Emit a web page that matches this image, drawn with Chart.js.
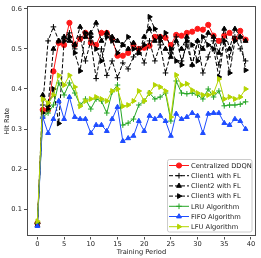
<!DOCTYPE html>
<html>
<head>
<meta charset="utf-8">
<script src="https://cdn.jsdelivr.net/npm/chart.js@4.4.0/dist/chart.umd.min.js"></script>
<style>
  html, body { margin: 0; padding: 0; background: #fff; }
  #wrap { width: 261px; height: 258px; }
</style>
</head>
<body>
<div id="wrap"><canvas id="hitRateChart" width="261" height="258"></canvas></div>
<script>
// Training periods on the x axis
const periods = [0,1,2,3,4,5,6,7,8,9,10,11,12,13,14,15,16,17,18,19,
                 20,21,22,23,24,25,26,27,28,29,30,31,32,33,34,35,36,37,38,39];

const xTicks = [0, 5, 10, 15, 20, 25, 30, 35, 40];
const yTicks = [0.1, 0.2, 0.3, 0.4, 0.5, 0.6];

const ddqn = [0.065,0.348,0.348,0.444,0.515,0.51,0.565,0.51,0.525,0.54,0.515,0.51,0.54,0.54,0.525,0.483,0.483,0.49,0.51,0.50,
              0.503,0.508,0.53,0.53,0.528,0.51,0.535,0.533,0.54,0.543,0.55,0.548,0.56,0.533,0.52,0.533,0.54,0.525,0.545,0.523];
const client1 = [0.065,0.36,0.52,0.555,0.52,0.53,0.54,0.50,0.53,0.47,0.52,0.426,0.50,0.434,0.47,0.428,0.465,0.45,0.48,0.50,
                 0.465,0.52,0.47,0.51,0.44,0.49,0.53,0.47,0.51,0.46,0.52,0.44,0.48,0.52,0.46,0.52,0.48,0.53,0.50,0.47];
const client2 = [0.06,0.385,0.36,0.50,0.52,0.53,0.52,0.51,0.555,0.53,0.54,0.565,0.52,0.54,0.53,0.52,0.51,0.50,0.515,0.49,
                 0.53,0.55,0.52,0.53,0.50,0.48,0.52,0.50,0.53,0.46,0.52,0.50,0.54,0.53,0.49,0.55,0.50,0.55,0.53,0.52];
const client3 = [0.065,0.34,0.35,0.40,0.314,0.52,0.53,0.49,0.445,0.54,0.53,0.50,0.47,0.53,0.52,0.49,0.51,0.53,0.50,0.49,
                 0.51,0.58,0.55,0.52,0.54,0.50,0.47,0.46,0.52,0.51,0.47,0.53,0.51,0.50,0.43,0.52,0.44,0.52,0.53,0.447];
const lru = [0.065,0.33,0.34,0.36,0.415,0.385,0.415,0.39,0.36,0.375,0.35,0.375,0.37,0.34,0.393,0.41,0.31,0.315,0.325,0.36,
             0.37,0.39,0.375,0.38,0.39,0.32,0.42,0.39,0.388,0.39,0.385,0.375,0.40,0.38,0.395,0.358,0.36,0.36,0.362,0.368];
const fifo = [0.058,0.33,0.29,0.325,0.37,0.325,0.38,0.33,0.325,0.325,0.29,0.31,0.31,0.295,0.325,0.355,0.27,0.277,0.283,0.32,
              0.295,0.333,0.325,0.333,0.32,0.283,0.338,0.325,0.33,0.34,0.333,0.29,0.338,0.34,0.34,0.315,0.31,0.325,0.32,0.30];
const lfu = [0.07,0.375,0.365,0.385,0.434,0.41,0.434,0.405,0.357,0.37,0.375,0.38,0.375,0.37,0.395,0.40,0.357,0.36,0.37,0.395,
             0.37,0.39,0.41,0.405,0.395,0.33,0.435,0.41,0.413,0.397,0.39,0.385,0.385,0.39,0.425,0.375,0.38,0.375,0.38,0.40];

const FONT = 'DejaVu Sans';

function series(label, values, color, style, rotation, dashed) {
    return {
        label: label,
        data: values.map((v, i) => ({ x: periods[i], y: v })),
        borderColor: color,
        backgroundColor: color,
        pointBackgroundColor: color,
        pointBorderColor: color,
        borderWidth: 1,
        borderDash: dashed ? [4, 2] : [],
        pointStyle: style,
        pointRotation: rotation,
        pointRadius: style === 'circle' ? 2.6 : 2.8,
        pointBorderWidth: 1,
        tension: 0,
        fill: false
    };
}

const datasets = [
    series('Centralized DDQN', ddqn, '#ff1a1a', 'circle', 0, false),
    series('Client1 with FL', client1, '#000000', 'cross', 0, true),
    series('Client2 with FL', client2, '#000000', 'triangle', 0, true),
    series('Client3 with FL', client3, '#000000', 'triangle', 90, true),
    series('LRU Algorithm', lru, '#26a626', 'cross', 0, false),
    series('FIFO Algorithm', fifo, '#1f4dff', 'triangle', 0, false),
    series('LFU Algorithm', lfu, '#b4d400', 'triangle', 90, false)
];
// later series drawn on top, like the original plot
datasets.forEach((d, i) => { d.order = datasets.length - i; });

const framePlugin = {
    id: 'frame',
    afterDraw(chart) {
        const { ctx, chartArea: a } = chart;
        ctx.save();
        ctx.strokeStyle = '#4d4d4d';
        ctx.lineWidth = 1;
        ctx.strokeRect(Math.round(a.left) + 0.5, Math.round(a.top) + 0.5,
                       Math.round(a.right - a.left) - 1, Math.round(a.bottom - a.top) - 1);
        ctx.restore();
    }
};

const legendPlugin = {
    id: 'insideLegend',
    afterDraw(chart) {
        const ctx = chart.ctx;
        const bx = 167.5, by = 159.5, bw = 84.5, bh = 72.5;
        ctx.save();
        ctx.beginPath();
        ctx.roundRect(bx, by, bw, bh, 2);
        ctx.fillStyle = 'rgba(255,255,255,0.85)';
        ctx.fill();
        ctx.strokeStyle = '#cccccc';
        ctx.lineWidth = 1;
        ctx.stroke();

        ctx.font = '6.7px "' + FONT + '"';
        ctx.textBaseline = 'middle';
        chart.data.datasets.forEach((d, i) => {
            const y = 165.5 + i * 10.2;
            ctx.strokeStyle = d.borderColor;
            ctx.fillStyle = d.borderColor;
            ctx.lineWidth = 1;
            ctx.setLineDash(d.borderDash);
            ctx.beginPath();
            ctx.moveTo(169, y);
            ctx.lineTo(189, y);
            ctx.stroke();
            ctx.setLineDash([]);
            Chart.helpers.drawPoint(ctx, {
                pointStyle: d.pointStyle,
                rotation: d.pointRotation,
                radius: d.pointRadius,
                borderWidth: 1
            }, 179, y);
            ctx.fillStyle = '#1a1a1a';
            ctx.fillText(d.label, 191, y + 0.5);
        });
        ctx.restore();
    }
};

new Chart(document.getElementById('hitRateChart').getContext('2d'), {
    type: 'line',
    data: { datasets: datasets },
    options: {
        responsive: false,
        animation: false,
        devicePixelRatio: 1,
        layout: { padding: { top: 2, right: 3.5, left: 0, bottom: 0 } },
        plugins: {
            legend: { display: false },
            tooltip: { enabled: false }
        },
        scales: {
            x: {
                type: 'linear',
                min: -1.95,
                max: 40.95,
                afterBuildTicks: scale => { scale.ticks = xTicks.map(v => ({ value: v })); },
                afterFit: scale => { scale.height = 21.5; },
                border: { display: false },
                grid: { drawOnChartArea: false, drawTicks: true, tickLength: 3, color: '#4d4d4d' },
                ticks: {
                    padding: 1,
                    color: '#1a1a1a',
                    font: { family: FONT, size: 6.7 },
                    maxRotation: 0,
                    callback: v => String(v)
                },
                title: {
                    display: true,
                    text: 'Training Period',
                    color: '#1a1a1a',
                    font: { family: FONT, size: 6.7 },
                    padding: { top: 0, bottom: 2 }
                }
            },
            y: {
                type: 'linear',
                min: 0.032,
                max: 0.607,
                afterBuildTicks: scale => { scale.ticks = yTicks.map(v => ({ value: v })); },
                afterFit: scale => { scale.width = 27; },
                border: { display: false },
                grid: { drawOnChartArea: false, drawTicks: true, tickLength: 3, color: '#4d4d4d' },
                ticks: {
                    padding: 2,
                    color: '#1a1a1a',
                    font: { family: FONT, size: 6.7 },
                    callback: v => v.toFixed(1)
                },
                title: {
                    display: true,
                    text: 'Hit Rate',
                    color: '#1a1a1a',
                    font: { family: FONT, size: 6.7 },
                    padding: { top: 3, bottom: 0 }
                }
            }
        }
    },
    plugins: [framePlugin, legendPlugin]
});
</script>
</body>
</html>
